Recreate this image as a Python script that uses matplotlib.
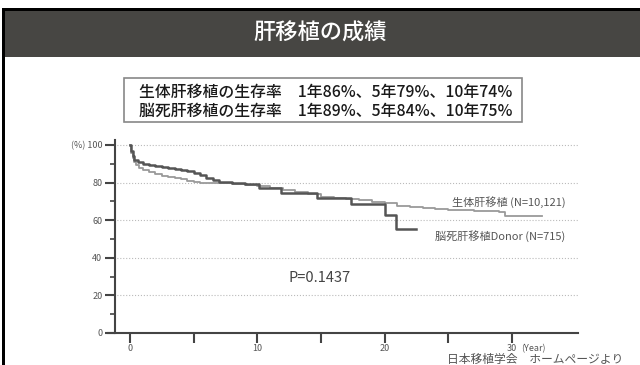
import matplotlib
matplotlib.use('Agg')
import matplotlib.pyplot as plt
from matplotlib.patches import Rectangle
from matplotlib.ticker import MultipleLocator, FixedLocator

plt.rcParams['font.family'] = ['Noto Sans CJK JP', 'DejaVu Sans']

# survival curves (years, %)
living_t = [0, 0.1, 0.2, 0.3, 0.5, 0.7, 1.0, 1.5, 2, 2.5, 3, 3.5, 4, 4.5, 5, 5.5, 6,
            7, 8, 9, 10, 11, 12, 13, 14, 15, 16, 17, 18, 19, 20, 21, 22, 23, 24,
            25, 26, 27, 28, 29, 29.5, 32.4]
living_v = [100, 96, 93, 91, 89.5, 88, 86.5, 85.5, 84.5, 83.8, 83, 82.4, 81.8, 81, 80.4, 80, 79.8,
            79.6, 79.2, 78.8, 78.0, 77.0, 76.0, 75.0, 73.8, 72.6, 72.0, 71.3, 70.6, 69.8, 69.0, 67.8, 67.3, 66.6, 66.1,
            65.7, 65.3, 65.0, 64.7, 64.4, 62.4, 62.2]

dead_t = [0, 0.1, 0.2, 0.3, 0.6, 1.0, 1.5, 2, 2.5, 3, 3.5, 4, 4.5, 5, 5.5, 6, 6.5,
          7, 8, 9, 10.1, 11.9, 14.7, 17.4, 20.0, 20.9, 22.5]
dead_v = [100, 97, 94, 92, 90.8, 90, 89.4, 88.6, 88.2, 87.8, 87.4, 86.9, 86.2, 85.2, 84, 82.6, 81.3,
          80.3, 79.8, 79.2, 77, 74.5, 71.8, 68.6, 62.8, 55.3, 55.3]

title = '肝移植の成績'
box_lines = ['生体肝移植の生存率　1年86%、5年79%、10年74%',
             '脳死肝移植の生存率　1年89%、5年84%、10年75%']
label_living = '生体肝移植 (N=10,121)'
label_dead = '脳死肝移植Donor (N=715)'
p_value = 'P=0.1437'
source = '日本移植学会　ホームページより'

W, H = 640, 365
fig = plt.figure(figsize=(6.4, 3.65), dpi=100)


def fx(px):
    return px / W


def fy(py):
    return 1 - py / H


# header band and slide border
fig.patches.append(Rectangle((fx(2), fy(57)), 1, fy(11) - fy(57), transform=fig.transFigure,
                             facecolor='#474643', edgecolor='none', zorder=0))
fig.patches.append(Rectangle((fx(2), fy(11)), 1, fy(8) - fy(11), transform=fig.transFigure,
                             facecolor='#000000', edgecolor='none', zorder=0))
fig.patches.append(Rectangle((fx(2), 0), fx(3), fy(8), transform=fig.transFigure,
                             facecolor='#000000', edgecolor='none', zorder=0))
fig.text(fx(320), fy(33), title, color='white', fontsize=16, fontweight='medium',
         ha='center', va='center')

# summary box
fig.patches.append(Rectangle((fx(124), fy(122)), fx(522) - fx(124), fy(78) - fy(122),
                             transform=fig.transFigure, facecolor='white',
                             edgecolor='#888888', linewidth=1.2))
fig.text(fx(139), fy(92), box_lines[0], fontsize=11.4, color='#1a1a1a', ha='left', va='center',
         fontweight='medium')
fig.text(fx(139), fy(111), box_lines[1], fontsize=11.4, color='#1a1a1a', ha='left', va='center',
         fontweight='medium')

# chart
ax = fig.add_axes([fx(108), fy(333), fx(578) - fx(108), fy(140) - fy(333)])
ax.plot(living_t, living_v, drawstyle='steps-post', color='#9a9a9a', lw=1.3)
ax.plot(dead_t, dead_v, drawstyle='steps-post', color='#555555', lw=1.8)

ax.set_xlim(-1.73, 35.2)
ax.set_ylim(0, 102.7)
for s in ['top', 'right']:
    ax.spines[s].set_visible(False)
for s in ['left', 'bottom']:
    ax.spines[s].set_color('#444444')
    ax.spines[s].set_linewidth(1.5)
ax.spines['left'].set_position(('data', -1.18))

ax.yaxis.set_major_locator(FixedLocator([0, 20, 40, 60, 80, 100]))
ax.yaxis.set_minor_locator(MultipleLocator(10))
ax.set_yticklabels(['0', '20', '40', '60', '80', '(%) 100'])
ax.xaxis.set_major_locator(FixedLocator([0, 5, 10, 15, 20, 25, 30]))
ax.set_xticklabels(['0', '', '10', '', '20', '', '30'])
ax.tick_params(axis='both', which='major', length=7, width=1.5, color='#444444',
               labelsize=6.5, labelcolor='#555555', pad=2)
ax.tick_params(axis='x', which='major', pad=1)
ax.tick_params(axis='y', which='minor', length=3.5, width=1.2, color='#444444')
ax.grid(axis='y', linestyle=':', color='#bbbbbb', lw=0.8)
ax.set_axisbelow(True)

ax.text(30.7, -8.4, '(Year)', fontsize=6.5, color='#555555', ha='left', va='center', clip_on=False)
ax.text(34.2, 69.5, label_living, fontsize=8, color='#555555', ha='right', va='center')
ax.text(34.2, 51.5, label_dead, fontsize=8, color='#555555', ha='right', va='center')
ax.text(14.9, 29.5, p_value, fontsize=10.5, color='#444444', ha='center', va='center')

fig.text(fx(623), fy(359.5), source, fontsize=8.5, color='#555555', ha='right', va='center')

fig.savefig('out.png', dpi=100)
